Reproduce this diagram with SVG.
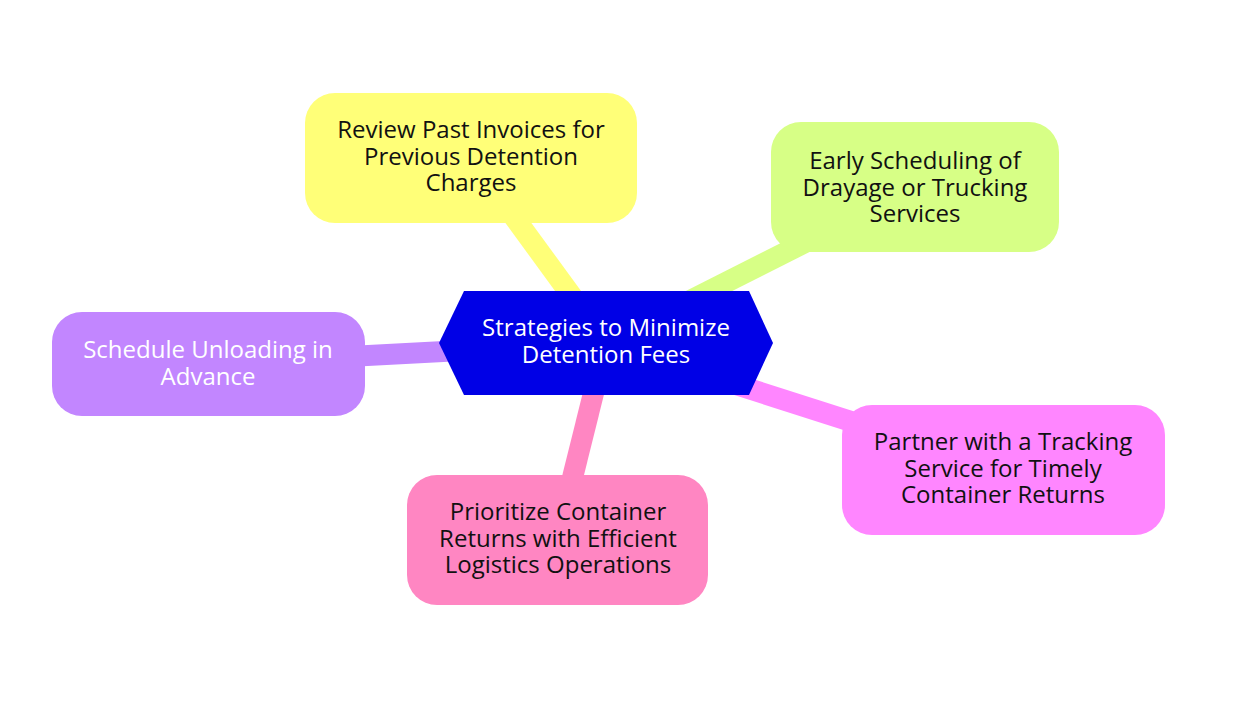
<svg xmlns="http://www.w3.org/2000/svg" width="1254" height="716" viewBox="0 0 1254 716">
<style>
  text { font-family: "Open Sans", "Noto Sans", "DejaVu Sans", sans-serif; font-size: 24px; text-anchor: middle; }
  .dark { fill: #111111; }
  .light { fill: #ffffff; }
  .edge { stroke-width: 21; stroke-linecap: butt; fill: none; }
</style>
<rect x="0" y="0" width="1254" height="716" fill="#ffffff"/>
<g id="connectors">
  <line class="edge" x1="606" y1="343" x2="471" y2="158" stroke="#ffff78"/>
  <line class="edge" x1="606" y1="343" x2="915" y2="187" stroke="#d7ff86"/>
  <line class="edge" x1="606" y1="343" x2="208" y2="364" stroke="#c286ff"/>
  <line class="edge" x1="606" y1="343" x2="1003" y2="470" stroke="#ff86ff"/>
  <line class="edge" x1="606" y1="343" x2="557" y2="540" stroke="#ff86c2"/>
</g>
<g id="node-root">
  <polygon points="439,343 464,291 749,291 773,343 749,395 464,395" fill="#0000e6"/>
  <text class="light" x="606" y="336">Strategies to Minimize</text>
  <text class="light" x="606" y="363">Detention Fees</text>
</g>
<g id="node-review">
  <rect x="305" y="93" width="332" height="130" rx="30" fill="#ffff78"/>
  <text class="dark" x="471" y="138">Review Past Invoices for</text>
  <text class="dark" x="471" y="165">Previous Detention</text>
  <text class="dark" x="471" y="191">Charges</text>
</g>
<g id="node-early">
  <rect x="771" y="122" width="288" height="130" rx="30" fill="#d7ff86"/>
  <text class="dark" x="915" y="169">Early Scheduling of</text>
  <text class="dark" x="915" y="196">Drayage or Trucking</text>
  <text class="dark" x="915" y="222">Services</text>
</g>
<g id="node-schedule">
  <rect x="52" y="312" width="313" height="104" rx="30" fill="#c286ff"/>
  <text class="light" x="208" y="358">Schedule Unloading in</text>
  <text class="light" x="208" y="385">Advance</text>
</g>
<g id="node-partner">
  <rect x="842" y="405" width="323" height="130" rx="30" fill="#ff86ff"/>
  <text class="dark" x="1003" y="450">Partner with a Tracking</text>
  <text class="dark" x="1003" y="477">Service for Timely</text>
  <text class="dark" x="1003" y="503">Container Returns</text>
</g>
<g id="node-prioritize">
  <rect x="407" y="475" width="301" height="130" rx="30" fill="#ff86c2"/>
  <text class="dark" x="558" y="520">Prioritize Container</text>
  <text class="dark" x="558" y="547">Returns with Efficient</text>
  <text class="dark" x="558" y="573">Logistics Operations</text>
</g>
</svg>
